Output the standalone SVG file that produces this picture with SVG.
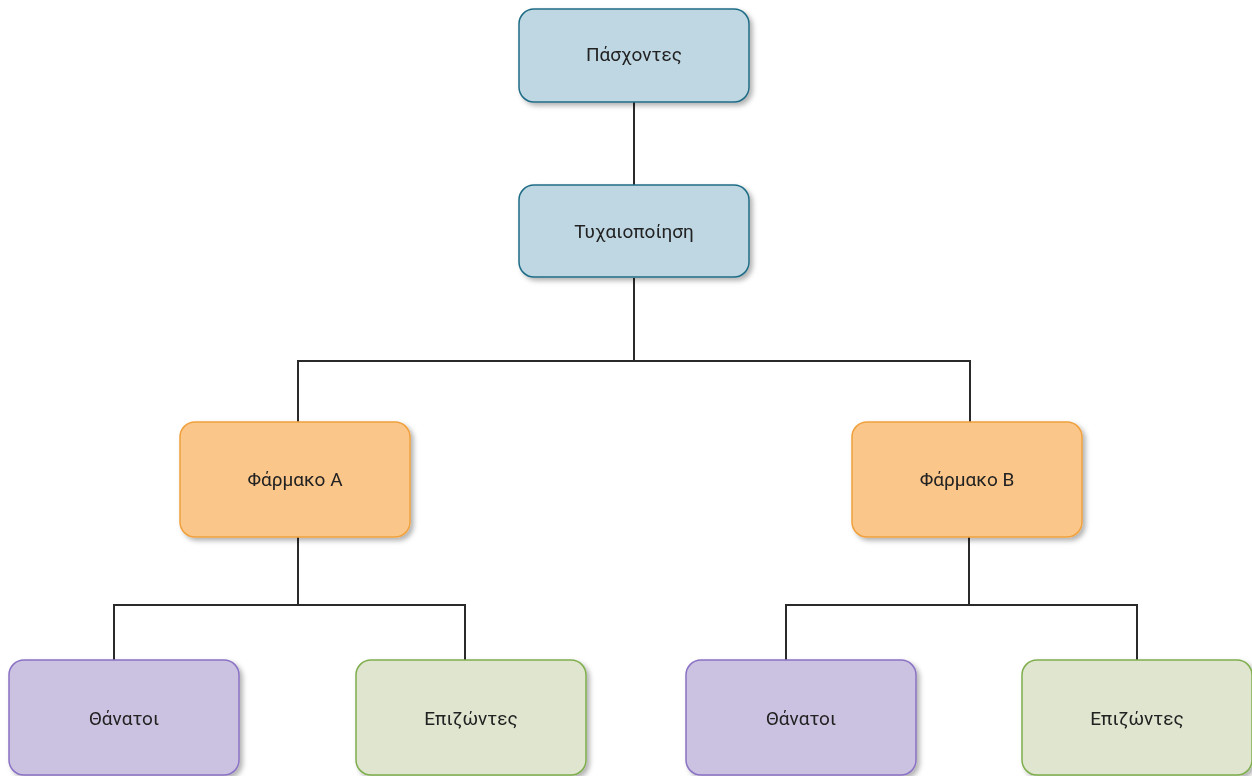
<svg xmlns="http://www.w3.org/2000/svg" width="1252" height="776" viewBox="0 0 1252 776">
<style>
.box{stroke-width:1.5}
.blue{fill:#bed7e3;stroke:#1f6c86}
.orange{fill:#fbc68a;stroke:#f0a13e}
.purple{fill:#cbc2e1;stroke:#8a72c4}
.green{fill:#dfe5cf;stroke:#7fae4e}
.lbl{font-family:Roboto,"Liberation Sans",sans-serif;font-size:19px;fill:#222;text-anchor:middle;dominant-baseline:central}
.conn{fill:none;stroke:#2a2a2a;stroke-width:2}
</style>
<defs>
<filter id="sh" x="-10%" y="-10%" width="130%" height="130%">
<feDropShadow dx="3" dy="3" stdDeviation="2.5" flood-color="#000" flood-opacity="0.3"/>
</filter>
</defs>
<rect width="1252" height="776" fill="#fff"/>
<g id="connectors">
<path class="conn" d="M634 102 V185"/>
<path class="conn" d="M634 278 V361 M298 422 V361 H970 V422"/>
<path class="conn" d="M298 537 V605 M114 660 V605 H465 V660"/>
<path class="conn" d="M969 537 V605 M786 660 V605 H1137 V660"/>
</g>
<g id="n1" filter="url(#sh)"><rect class="box blue" x="519" y="9" width="230" height="93" rx="15"/><text class="lbl" x="634" y="54">Πάσχοντες</text></g>
<g id="n2" filter="url(#sh)"><rect class="box blue" x="519" y="185" width="230" height="92" rx="15"/><text class="lbl" x="634" y="231">Τυχαιοποίηση</text></g>
<g id="n3" filter="url(#sh)"><rect class="box orange" x="180" y="422" width="230" height="115" rx="15"/><text class="lbl" x="295" y="479">Φάρμακο A</text></g>
<g id="n4" filter="url(#sh)"><rect class="box orange" x="852" y="422" width="230" height="115" rx="15"/><text class="lbl" x="967" y="479">Φάρμακο B</text></g>
<g id="n5" filter="url(#sh)"><rect class="box purple" x="9" y="660" width="230" height="115" rx="15"/><text class="lbl" x="124" y="718">Θάνατοι</text></g>
<g id="n6" filter="url(#sh)"><rect class="box green" x="356" y="660" width="230" height="115" rx="15"/><text class="lbl" x="471" y="718">Επιζώντες</text></g>
<g id="n7" filter="url(#sh)"><rect class="box purple" x="686" y="660" width="230" height="115" rx="15"/><text class="lbl" x="801" y="718">Θάνατοι</text></g>
<g id="n8" filter="url(#sh)"><rect class="box green" x="1022" y="660" width="230" height="115" rx="15"/><text class="lbl" x="1137" y="718">Επιζώντες</text></g>
</svg>
